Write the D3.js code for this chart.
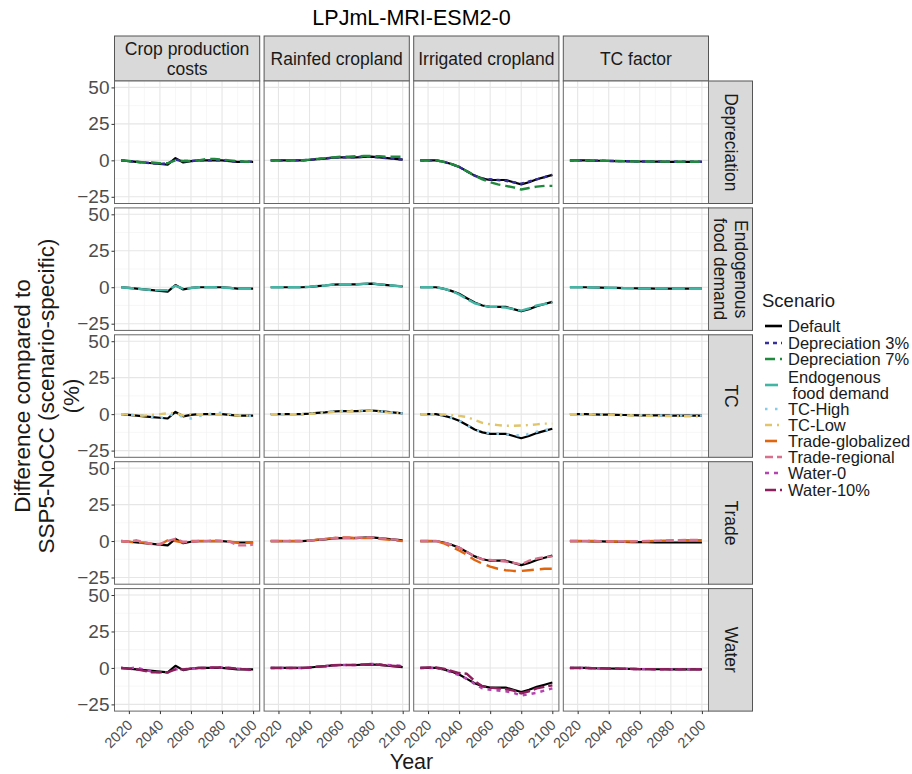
<!DOCTYPE html>
<html>
<head>
<meta charset="utf-8">
<script src="https://cdn.jsdelivr.net/npm/d3@7"></script>
<style>
  html, body { margin: 0; padding: 0; background: #fff; }
  svg { display: block; font-family: "Liberation Sans", Arial, Helvetica, sans-serif; }
</style>
</head>
<body>
<svg id="chart" width="912" height="774"></svg>
<script>
// ---- data -------------------------------------------------------------
const years = [2015, 2020, 2025, 2030, 2035, 2040, 2045, 2050, 2055, 2060, 2065, 2070, 2075, 2080, 2085, 2090, 2095, 2100];

const columns = ["Crop production\ncosts", "Rainfed cropland", "Irrigated cropland", "TC factor"];
const rowGroups = ["Depreciation", "Endogenous\nfood demand", "TC", "Trade", "Water"];
const scenarios = ["Default", "Depreciation 3%", "Depreciation 7%", "Endogenous\n food demand", "TC-High", "TC-Low", "Trade-globalized", "Trade-regional", "Water-0", "Water-10%"];
const scenarioColors = ["#000000", "#37309a", "#1f8a3e", "#43b5a5", "#86cbe9", "#e0c56c", "#e0650f", "#d9718e", "#b445b0", "#8c1f5c"];
const scenarioDash = [null, "4,4", "10,5", "13,4", "2.5,7.5", "7,5,2,5", "12,6", "8,4", "4,5", "11,4"];
const yTicks = [-25, 0, 25, 50];
const xTicks = [2020, 2040, 2060, 2080, 2100];

// Default
const default_cost      = [0, -0.5, -1, -1.5, -2, -2.5, -3, 1.5, -1.5, -0.5, 0, 0, 0, 0, -0.5, -1, -1, -1];
const default_rainfed   = [0, 0, 0, 0, 0, 0.3, 0.8, 1.2, 1.8, 2, 2, 2, 2.3, 2.5, 2, 1.5, 1, 0.5];
const default_irrigated = [0, 0, 0, -1, -2.5, -4.5, -7.5, -10.5, -12.5, -13.5, -13.5, -13.5, -15, -16.5, -15, -13, -11.5, -10];
const default_tc        = [0, 0, 0, -0.2, -0.3, -0.4, -0.5, -0.6, -0.7, -0.8, -0.8, -0.9, -0.9, -1, -1, -1, -1, -1];

// Depreciation 3%
const dep3_cost      = [0, -0.5, -1, -1.5, -2, -2.5, -2, 0.5, -0.5, -0.5, 0, 0, 0, 0, -0.5, -1, -1, -1];
const dep3_rainfed   = [0, 0, 0, 0, 0, 0.3, 0.8, 1.3, 1.8, 2, 2, 2.2, 2.5, 2.5, 2, 1.5, 1, 0.5];
const dep3_irrigated = [0, 0, 0, -1, -2.5, -4.5, -7.5, -10.5, -12.5, -13, -13.5, -14, -15, -16, -14.5, -13, -11.5, -10];
const dep3_tc        = [0, 0, 0, -0.2, -0.3, -0.4, -0.5, -0.6, -0.7, -0.8, -0.8, -0.9, -0.9, -1, -1, -1, -1, -1];

// Depreciation 7%
const dep7_cost      = [0, -0.5, -1, -1.5, -1.5, -2, -2, 0, -0.5, -0.5, 0, 1, 1, 0.5, 0, -0.5, -1, -1];
const dep7_rainfed   = [0, 0, 0, 0, 0, 0.5, 1, 1.5, 2, 2.5, 2.5, 2.8, 3, 3, 2.8, 2.5, 2.5, 2.5];
const dep7_irrigated = [0, 0, 0, -1, -2.5, -4.5, -7.5, -10.5, -13, -15, -16.5, -17.5, -18.5, -20, -19, -18, -17.5, -17.5];
const dep7_tc        = [0, 0, 0, -0.2, -0.3, -0.4, -0.5, -0.6, -0.7, -0.8, -0.8, -0.9, -0.9, -1, -1, -1, -1, -1];

// Endogenous food demand
const endo_cost      = [0, -0.5, -1, -1.5, -2, -2, -2, 1, -1, -0.5, 0, 0, 0, -0.2, -0.5, -1, -1, -1];
const endo_rainfed   = [0, 0, 0, 0, 0, 0.3, 0.8, 1.2, 1.8, 2, 2, 2, 2.3, 2.7, 2, 1.5, 1, 0.5];
const endo_irrigated = [0, 0, 0, -1, -2.5, -5, -8, -11, -12.5, -13.5, -13.5, -14, -15, -16, -14.5, -12.5, -11.5, -10.5];
const endo_tc        = [0, 0, 0, -0.2, -0.3, -0.4, -0.5, -0.6, -0.7, -0.8, -0.8, -0.9, -0.9, -1, -1, -1, -1, -1];

// TC-High
const tchigh_cost      = [0, -0.3, -0.7, -1, -2, -3, -1, 0, -2, -3, -1.5, 0, 0.5, 1, 0, -0.5, -1.5, -1];
const tchigh_rainfed   = [0, 0, 0, 0, 0, 0.3, 0.8, 1.3, 1.8, 2.2, 2.3, 2.3, 2.5, 2.5, 2, 1.5, 1, 0.5];
const tchigh_irrigated = [0, 0, 0, -1, -2.5, -4.5, -7.5, -10.5, -12.5, -13, -13.5, -14, -14, -15, -13.5, -12, -11, -10];
const tchigh_tc        = [0, 0, 0, -0.2, -0.3, -0.4, -0.5, -0.6, -0.7, -0.8, -0.8, -0.9, -0.9, -1, -1, -1, -1, -1];

// TC-Low
const tclow_cost      = [0, -0.3, -1, -1, -0.5, 0, 0.5, 1, -1, 0, 0, 0, 0, 0, -0.5, -1, -1, -1];
const tclow_rainfed   = [0, 0, 0, 0, 0, 0.2, 0.5, 1, 1.5, 1.8, 1.8, 2, 2, 2.3, 1.8, 1.2, 0.8, 0.5];
const tclow_irrigated = [0, 0, 0, -0.3, -0.7, -1.2, -2, -4, -6, -7, -7.5, -8, -8, -7.8, -7.5, -7, -6.5, -6.5];
const tclow_tc        = [0, 0, 0, -0.2, -0.4, -0.5, -0.7, -0.8, -0.9, -1, -1.1, -1.2, -1.3, -1.4, -1.4, -1.5, -1.5, -1.5];

// Trade-globalized
const tradeg_cost      = [0, -0.5, -1, -1, -2, -2.5, 0.5, 0, -1, 0, 0, 0, 0, 0, -0.5, -1, -1, -1];
const tradeg_rainfed   = [0, 0, 0, 0, 0, 0.3, 1, 1.5, 2, 2.5, 2.5, 2, 2, 2, 1.5, 1, 0.5, 0];
const tradeg_irrigated = [0, 0, 0, -1.5, -4, -6.5, -9.5, -13, -15.5, -17.5, -19, -20, -20.5, -20.5, -20, -19.5, -19, -19];
const tradeg_tc        = [0, 0, 0, 0, -0.2, -0.3, -0.3, -0.3, -0.3, -0.2, -0.1, 0, 0.2, 0.3, 0.4, 0.5, 0.5, 0.5];

// Trade-regional
const trader_cost      = [0, -0.5, 0.5, -1, -2, -2, 0, 1.5, -0.5, -0.5, 0, 0, 0.5, 0, -0.5, -3, -3, -2.5];
const trader_rainfed   = [0, 0, 0, 0, 0, 0.3, 0.8, 1.3, 2, 2.3, 2.3, 2.3, 2.5, 2.5, 2, 1.5, 1, 0.5];
const trader_irrigated = [0, 0, 0, -1, -2.5, -4.5, -7.5, -10.5, -12.5, -13, -13.5, -14, -15, -16, -13.5, -12, -11, -10.5];
const trader_tc        = [0, 0, 0, 0, -0.2, -0.3, -0.3, -0.3, -0.2, -0.1, 0, 0.2, 0.3, 0.5, 0.6, 0.7, 0.8, 0.8];

// Water-0
const water0_cost      = [0, -0.5, 0.5, -1.5, -2.5, -3, -3, -1, -1, -0.5, 0, 0, 0.3, 0.3, 0, -0.5, -1, -2];
const water0_rainfed   = [0, 0, 0, 0, 0, 0.3, 0.8, 1.2, 1.8, 2, 2, 2, 2.3, 2.8, 2.5, 2, 1.8, 1.5];
const water0_irrigated = [0, 0, 0, -1, -3, -5, -7.5, -11, -14, -15, -15.5, -16, -17, -19, -18, -17, -15.5, -14];
const water0_tc        = [0, 0, 0, -0.2, -0.3, -0.4, -0.5, -0.6, -0.7, -0.8, -0.8, -0.9, -0.9, -1, -1, -1, -1, -1];

// Water-10%
const water10_cost      = [0, -0.5, -1, -2, -3, -3, -3, -1, -1, -0.5, 0, 0, 0.3, 0.3, 0, -0.5, -1, -1.5];
const water10_rainfed   = [0, 0, 0, 0, 0, 0.3, 0.8, 1.2, 1.8, 2, 2, 2, 2.3, 2.6, 2.2, 1.7, 1.3, 1];
const water10_irrigated = [0, 0.3, 0.3, -0.5, -2, -3.5, -4, -9, -12.5, -13.5, -14, -14.5, -15.5, -17.5, -16, -14, -13, -12];
const water10_tc        = [0, 0, 0, -0.2, -0.3, -0.4, -0.5, -0.6, -0.7, -0.8, -0.8, -0.9, -0.9, -1, -1, -1, -1, -1];

// series per scenario, one array per column
const seriesByScenario = [
  [default_cost, default_rainfed, default_irrigated, default_tc],
  [dep3_cost, dep3_rainfed, dep3_irrigated, dep3_tc],
  [dep7_cost, dep7_rainfed, dep7_irrigated, dep7_tc],
  [endo_cost, endo_rainfed, endo_irrigated, endo_tc],
  [tchigh_cost, tchigh_rainfed, tchigh_irrigated, tchigh_tc],
  [tclow_cost, tclow_rainfed, tclow_irrigated, tclow_tc],
  [tradeg_cost, tradeg_rainfed, tradeg_irrigated, tradeg_tc],
  [trader_cost, trader_rainfed, trader_irrigated, trader_tc],
  [water0_cost, water0_rainfed, water0_irrigated, water0_tc],
  [water10_cost, water10_rainfed, water10_irrigated, water10_tc]
];
// scenarios shown in each row (Default is always drawn first)
const rowScenarios = [[0, 1, 2], [0, 3], [0, 4, 5], [0, 6, 7], [0, 8, 9]];

// ---- layout -----------------------------------------------------------
const svg = d3.select("#chart");
const panelLeft = 114.5, panelTop = 81, pw = 145.2, ph = 122.5, gap = 4.4;
const stripH = 45, stripW = 44;
const textGrey = "#4d4d4d";
const stripFont = 17.5;

const x = d3.scaleLinear().domain([2010.75, 2104.25]).range([0, pw]);
const y = d3.scaleLinear().domain([-29.6, 54.4]).range([ph, 0]);
const xMinor = [2030, 2050, 2070, 2090];
const yMinor = [-12.5, 12.5, 37.5];

const line = d3.line().x((d, i) => x(years[i])).y(d => y(d));

svg.append("text")
  .attr("x", panelLeft + (4 * pw + 3 * gap) / 2).attr("y", 25)
  .attr("text-anchor", "middle").attr("font-size", 21.5).attr("fill", "#000")
  .text("LPJmL-MRI-ESM2-0");

function multiline(sel, str, lineH) {
  const parts = str.split("\n");
  parts.forEach((p, i) => {
    sel.append("tspan")
      .attr("x", 0)
      .attr("dy", i === 0 ? (-(parts.length - 1) / 2 * lineH) : lineH)
      .attr("xml:space", "preserve")
      .text(p);
  });
}

// column strips
columns.forEach((c, ci) => {
  const gx = panelLeft + ci * (pw + gap);
  svg.append("rect").attr("x", gx).attr("y", panelTop - stripH).attr("width", pw).attr("height", stripH)
    .attr("fill", "#d9d9d9").attr("stroke", "#555").attr("stroke-width", 1);
  const t = svg.append("text")
    .attr("transform", `translate(${gx + pw / 2},${panelTop - stripH / 2})`)
    .attr("text-anchor", "middle").attr("dominant-baseline", "central")
    .attr("font-size", stripFont).attr("fill", "#1a1a1a");
  multiline(t, c, 20);
});

rowGroups.forEach((rg, ri) => {
  const gy = panelTop + ri * (ph + gap);
  // row strip
  const sx = panelLeft + 4 * pw + 3 * gap;
  svg.append("rect").attr("x", sx).attr("y", gy).attr("width", stripW).attr("height", ph)
    .attr("fill", "#d9d9d9").attr("stroke", "#555").attr("stroke-width", 1);
  const t = svg.append("text")
    .attr("transform", `translate(${sx + stripW / 2},${gy + ph / 2}) rotate(90)`)
    .attr("text-anchor", "middle").attr("dominant-baseline", "central")
    .attr("font-size", stripFont).attr("fill", "#1a1a1a");
  multiline(t, rg, 21);

  columns.forEach((c, ci) => {
    const gx = panelLeft + ci * (pw + gap);
    const g = svg.append("g").attr("transform", `translate(${gx},${gy})`);
    g.append("rect").attr("width", pw).attr("height", ph).attr("fill", "#fff");

    // grid
    g.selectAll(".xminor").data(xMinor).join("line")
      .attr("x1", d => x(d)).attr("x2", d => x(d)).attr("y1", 0).attr("y2", ph)
      .attr("stroke", "#f2f2f2").attr("stroke-width", 0.6);
    g.selectAll(".yminor").data(yMinor).join("line")
      .attr("y1", d => y(d)).attr("y2", d => y(d)).attr("x1", 0).attr("x2", pw)
      .attr("stroke", "#f2f2f2").attr("stroke-width", 0.6);
    g.selectAll(".xmajor").data(xTicks).join("line")
      .attr("x1", d => x(d)).attr("x2", d => x(d)).attr("y1", 0).attr("y2", ph)
      .attr("stroke", "#e6e6e6").attr("stroke-width", 1.1);
    g.selectAll(".ymajor").data(yTicks).join("line")
      .attr("y1", d => y(d)).attr("y2", d => y(d)).attr("x1", 0).attr("x2", pw)
      .attr("stroke", "#e6e6e6").attr("stroke-width", 1.1);

    // lines
    rowScenarios[ri].forEach(si => {
      g.append("path")
        .attr("d", line(seriesByScenario[si][ci]))
        .attr("fill", "none")
        .attr("stroke", scenarioColors[si])
        .attr("stroke-width", si === 0 ? 2.2 : 2.4)
        .attr("stroke-dasharray", scenarioDash[si])
        .attr("stroke-linejoin", "round");
    });

    g.append("rect").attr("width", pw).attr("height", ph)
      .attr("fill", "none").attr("stroke", "#666").attr("stroke-width", 1);

    // y axis on the first column
    if (ci === 0) {
      const ax = g.append("g").call(d3.axisLeft(y).tickValues(yTicks).tickSize(3).tickPadding(2).tickFormat(d3.format("d")));
      ax.select(".domain").remove();
      ax.selectAll("line").attr("stroke", "#333");
      ax.selectAll("text").attr("font-size", 19).attr("fill", textGrey)
        .attr("font-family", "Liberation Sans, Arial, sans-serif");
    }
    // x axis on the bottom row
    if (ri === rowGroups.length - 1) {
      const ax = g.append("g").attr("transform", `translate(0,${ph})`)
        .call(d3.axisBottom(x).tickValues(xTicks).tickSize(3).tickFormat(d3.format("d")));
      ax.select(".domain").remove();
      ax.selectAll("line").attr("stroke", "#333");
      ax.selectAll("text")
        .attr("font-size", 14.5).attr("fill", textGrey)
        .attr("font-family", "Liberation Sans, Arial, sans-serif")
        .attr("text-anchor", "end")
        .attr("dy", null)
        .attr("y", 0)
        .attr("transform", "translate(4,15) rotate(-45)");
    }
  });
});

// axis titles
const panelsBottom = panelTop + 5 * ph + 4 * gap;
svg.append("text")
  .attr("x", panelLeft + (4 * pw + 3 * gap) / 2).attr("y", 769)
  .attr("text-anchor", "middle").attr("font-size", 21.5).attr("fill", "#1a1a1a")
  .text("Year");

const yl = svg.append("text")
  .attr("transform", `translate(46,${(panelTop + panelsBottom) / 2}) rotate(-90)`)
  .attr("text-anchor", "middle").attr("dominant-baseline", "central")
  .attr("font-size", 22.5).attr("fill", "#1a1a1a");
multiline(yl, "Difference compared to\nSSP5-NoCC (scenario-specific)\n(%)", 24.5);

// legend
const lg = svg.append("g").attr("transform", "translate(762,0)");
lg.append("text").attr("x", 0).attr("y", 300).attr("dominant-baseline", "central")
  .attr("font-size", 18.5).attr("fill", "#1a1a1a").text("Scenario");
const legendY = [326, 343, 359, 385, 409, 425, 441, 457, 473, 490];
scenarios.forEach((s, i) => {
  const cy = legendY[i];
  lg.append("line").attr("x1", 3).attr("x2", 20).attr("y1", cy).attr("y2", cy)
    .attr("stroke", scenarioColors[i]).attr("stroke-width", 2.6)
    .attr("stroke-dasharray", scenarioDash[i]);
  const t = lg.append("text")
    .attr("transform", `translate(26,${cy})`)
    .attr("dominant-baseline", "central")
    .attr("font-size", 16.5).attr("fill", "#1a1a1a");
  multiline(t, s, 16.5);
});
</script>
</body>
</html>
